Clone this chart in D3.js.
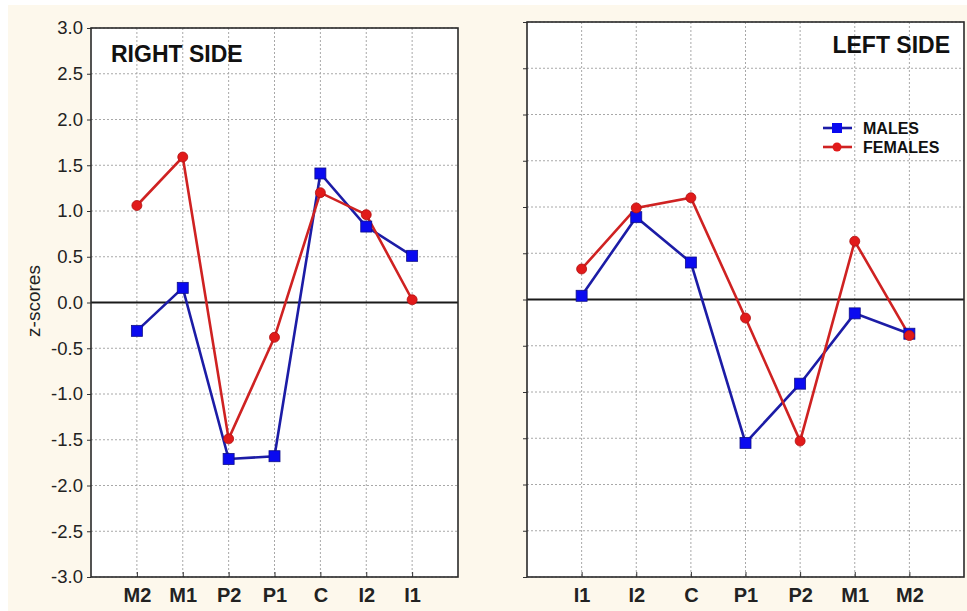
<!DOCTYPE html>
<html>
<head>
<meta charset="utf-8">
<script src="https://cdn.jsdelivr.net/npm/d3@7"></script>
<style>
body { margin: 0; background: #ffffff; }
text { font-family: "Liberation Sans", Arial, sans-serif; }
</style>
</head>
<body>
<script>
var w = 967;
var h = 611;

// data
var rightTeeth = ["M2", "M1", "P2", "P1", "C", "I2", "I1"];
var rightMales = [-0.31, 0.16, -1.71, -1.68, 1.41, 0.83, 0.51];
var rightFemales = [1.06, 1.59, -1.49, -0.38, 1.20, 0.96, 0.03];

var leftTeeth = ["I1", "I2", "C", "P1", "P2", "M1", "M2"];
var leftMales = [0.04, 0.89, 0.40, -1.55, -0.91, -0.15, -0.37];
var leftFemales = [0.33, 0.99, 1.10, -0.20, -1.53, 0.63, -0.39];

var yTicks = [-3.0, -2.5, -2.0, -1.5, -1.0, -0.5, 0.0, 0.5, 1.0, 1.5, 2.0, 2.5, 3.0];
var seriesNames = ["MALES", "FEMALES"];

var blueLine = "#1c1ca6", blueMark = "#0a0af0";
var redLine = "#cf2222", redMark = "#e11a1a";

var svg = d3.select("body").append("svg")
    .attr("width", w)
    .attr("height", h);

// cream page
svg.append("rect")
    .attr("x", 8).attr("y", 5)
    .attr("width", w - 8).attr("height", h - 5)
    .attr("fill", "#fdf8ec");

function drawPanel(cfg) {
    var g = svg.append("g");

    var xScale = d3.scalePoint()
        .domain(cfg.cats)
        .range([cfg.x0, cfg.x1])
        .padding(1);
    var yScale = d3.scaleLinear()
        .domain([-3, 3])
        .range([cfg.y1, cfg.y0]);

    g.append("rect")
        .attr("x", cfg.x0).attr("y", cfg.y0)
        .attr("width", cfg.x1 - cfg.x0).attr("height", cfg.y1 - cfg.y0)
        .attr("fill", "#ffffff");

    // dotted grid
    g.selectAll(".hg")
        .data(yTicks)
        .enter()
        .append("line")
        .attr("x1", cfg.x0).attr("x2", cfg.x1)
        .attr("y1", function(d) { return yScale(d); })
        .attr("y2", function(d) { return yScale(d); })
        .attr("stroke", "#a8a8a8")
        .attr("stroke-width", 1)
        .attr("stroke-dasharray", "2,2");
    g.selectAll(".vg")
        .data(cfg.cats)
        .enter()
        .append("line")
        .attr("y1", cfg.y0).attr("y2", cfg.y1)
        .attr("x1", function(d) { return xScale(d); })
        .attr("x2", function(d) { return xScale(d); })
        .attr("stroke", "#a8a8a8")
        .attr("stroke-width", 1)
        .attr("stroke-dasharray", "2,2");

    // zero line
    g.append("line")
        .attr("x1", cfg.x0).attr("x2", cfg.x1)
        .attr("y1", yScale(0)).attr("y2", yScale(0))
        .attr("stroke", "#1a1a1a")
        .attr("stroke-width", 2);

    // axes
    var yAxis = d3.axisLeft(yScale)
        .tickValues(yTicks)
        .tickSize(4)
        .tickPadding(4)
        .tickFormat(d3.format(".1f"));
    var ya = g.append("g")
        .attr("transform", "translate(" + cfg.x0 + ",0)")
        .call(yAxis);
    ya.select(".domain").remove();
    ya.selectAll("line").attr("stroke", "#333");
    ya.selectAll("text")
        .attr("font-size", "18.5px")
        .attr("fill", "#222")
        .text(function(d) { return d3.format(".1f")(d).replace("−", "-"); });
    if (!cfg.yLabels) ya.selectAll("text").remove();

    var xAxis = d3.axisBottom(xScale)
        .tickSize(-5)
        .tickPadding(11);
    var xa = g.append("g")
        .attr("transform", "translate(0," + cfg.y1 + ")")
        .call(xAxis);
    xa.select(".domain").remove();
    xa.selectAll("line").attr("stroke", "#333");
    xa.selectAll("text")
        .attr("font-size", "20px")
        .attr("font-weight", "bold")
        .attr("fill", "#222");

    // frame
    g.append("rect")
        .attr("x", cfg.x0).attr("y", cfg.y0)
        .attr("width", cfg.x1 - cfg.x0).attr("height", cfg.y1 - cfg.y0)
        .attr("fill", "none")
        .attr("stroke", "#2a2a2a")
        .attr("stroke-width", 1.6);

    var line = d3.line()
        .x(function(d, i) { return xScale(cfg.cats[i]); })
        .y(function(d) { return yScale(d); });

    // males
    g.append("path")
        .datum(cfg.males)
        .attr("d", line)
        .attr("fill", "none")
        .attr("stroke", blueLine)
        .attr("stroke-width", 2.6);
    // females
    g.append("path")
        .datum(cfg.females)
        .attr("d", line)
        .attr("fill", "none")
        .attr("stroke", redLine)
        .attr("stroke-width", 2.6);

    g.selectAll(".sq")
        .data(cfg.males)
        .enter()
        .append("rect")
        .attr("x", function(d, i) { return xScale(cfg.cats[i]) - 5.5; })
        .attr("y", function(d) { return yScale(d) - 5.5; })
        .attr("width", 11).attr("height", 11)
        .attr("fill", blueMark)
        .attr("stroke", "#10108a")
        .attr("stroke-width", 0.8);

    g.selectAll(".ci")
        .data(cfg.females)
        .enter()
        .append("circle")
        .attr("cx", function(d, i) { return xScale(cfg.cats[i]); })
        .attr("cy", function(d) { return yScale(d); })
        .attr("r", 5)
        .attr("fill", redMark)
        .attr("stroke", "#b01010")
        .attr("stroke-width", 0.8);

    // panel title
    g.append("text")
        .attr("x", cfg.titleX)
        .attr("y", cfg.titleY)
        .attr("text-anchor", cfg.titleAnchor)
        .attr("font-size", "23px")
        .attr("font-weight", "bold")
        .attr("fill", "#111")
        .text(cfg.title);

    return g;
}

drawPanel({
    cats: rightTeeth, males: rightMales, females: rightFemales,
    x0: 91, x1: 458, y0: 28, y1: 577,
    yLabels: true,
    title: "RIGHT SIDE", titleX: 111, titleY: 62, titleAnchor: "start"
});

var right = drawPanel({
    cats: leftTeeth, males: leftMales, females: leftFemales,
    x0: 527, x1: 964, y0: 22, y1: 577,
    yLabels: false,
    title: "LEFT SIDE", titleX: 950, titleY: 53, titleAnchor: "end"
});

// legend
var legend = right.append("g")
    .selectAll("g")
    .data(seriesNames)
    .enter()
    .append("g")
    .attr("transform", function(d, i) { return "translate(823," + (128 + i * 19) + ")"; });
legend.append("line")
    .attr("x1", 0).attr("x2", 29)
    .attr("y1", 0).attr("y2", 0)
    .attr("stroke", function(d, i) { return i == 0 ? blueLine : redLine; })
    .attr("stroke-width", 2.6);
legend.filter(function(d, i) { return i == 0; })
    .append("rect")
    .attr("x", 9).attr("y", -5).attr("width", 10).attr("height", 10)
    .attr("fill", blueMark);
legend.filter(function(d, i) { return i == 1; })
    .append("circle")
    .attr("cx", 14).attr("cy", 0).attr("r", 4.5)
    .attr("fill", redMark);
legend.append("text")
    .attr("x", 40)
    .attr("y", 5.5)
    .attr("font-size", "16px")
    .attr("font-weight", "bold")
    .attr("fill", "#111")
    .text(function(d) { return d; });

// y axis title
svg.append("text")
    .attr("transform", "translate(40,301) rotate(-90)")
    .attr("text-anchor", "middle")
    .attr("font-size", "19px")
    .attr("fill", "#222")
    .text("z-scores");
</script>
</body>
</html>
